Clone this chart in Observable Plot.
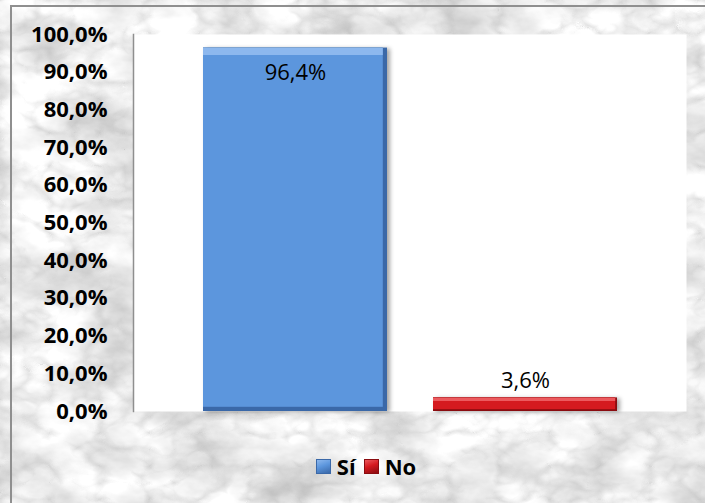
<!DOCTYPE html>
<html>
<head>
<meta charset="utf-8">
<script src="https://cdn.jsdelivr.net/npm/d3@7"></script>
<script src="https://cdn.jsdelivr.net/npm/@observablehq/plot@0.6"></script>
<style>
  html, body { margin: 0; padding: 0; background: #ffffff; }
  #wrap { position: relative; width: 705px; height: 503px; overflow: hidden; font-family: "Open Sans", "Liberation Sans", sans-serif; }
  #frame { position: absolute; left: 10px; top: 5px; right: -2px; bottom: -2px; border-left: 2px solid #8f8f8f; border-top: 2px solid #8f8f8f; pointer-events: none; }
  #chart { position: absolute; left: 0; top: 0; }
  #legend { position: absolute; left: 0; top: 450px; width: 705px; height: 32px; display: flex; justify-content: center; align-items: center; padding-left: 27px; box-sizing: border-box; font-weight: bold; font-size: 22px; color: #000; }
  .item { display: flex; align-items: center; margin: 0 4px; }
  .sw { width: 15px; height: 15px; margin-right: 6px; box-sizing: border-box; }
</style>
</head>
<body>
<div id="wrap">
  <div id="chart"></div>
  <div id="legend"></div>
  <div id="frame"></div>
</div>
<script>
// ---- data ----
const categories = ["Sí", "No"];
const values = [96.4, 3.6];
const yTicks = [0, 10, 20, 30, 40, 50, 60, 70, 80, 90, 100];
const mainColors = ["#5c96dd", "#d51a1f"];
const lightColors = ["#8db8ee", "#ec5a5e"];
const darkColors = ["#3a68a8", "#8a0c10"];

const data = categories.map((c, i) => ({cat: c, value: values[i]}));
const loc = d3.formatLocale({decimal: ",", thousands: ".", grouping: [3], currency: ["", "€"]});
const fmt = v => loc.format(".1f")(v) + "%";

// ---- marble background ----
(function () {
  const svg = `<svg xmlns='http://www.w3.org/2000/svg' width='705' height='503'>
  <filter id='f' x='0' y='0' width='100%' height='100%'>
    <feTurbulence type='fractalNoise' baseFrequency='0.012 0.02' numOctaves='5' seed='7' result='n'/>
    <feColorMatrix in='n' type='matrix' values='0.9 0 0 0 0.42  0.9 0 0 0 0.42  0.9 0 0 0 0.42  0 0 0 0 1' result='g'/>
  </filter>
  <filter id='v' x='0' y='0' width='100%' height='100%'>
    <feTurbulence type='turbulence' baseFrequency='0.02 0.03' numOctaves='3' seed='4'/>
    <feColorMatrix type='matrix' values='0 0 0 0 0.4  0 0 0 0 0.4  0 0 0 0 0.4  -1.8 0 0 0 0.55'/>
  </filter>
  <rect width='100%' height='100%' fill='#d8d8d8'/>
  <rect width='100%' height='100%' filter='url(#f)'/>
  <rect width='100%' height='100%' filter='url(#v)' opacity='0.6'/>
</svg>`;
  document.getElementById("wrap").style.background =
    "url(\"data:image/svg+xml," + encodeURIComponent(svg) + "\")";
})();

// ---- chart ----
const xOpts = {domain: categories, paddingInner: 0.2, paddingOuter: 0.3, axis: null};
const marks = [
  Plot.frame({fill: "white", stroke: null}),
  Plot.frame({anchor: "left", stroke: "#8f8f8f", strokeWidth: 1.5})
];
categories.forEach((c, i) => {
  const d = data.filter(r => r.cat === c);
  const b = i === 0 ? 7 : 3;
  marks.push(
    Plot.barY(d, {x: "cat", y: "value", fill: darkColors[i], className: "base-bar"}),
    Plot.barY(d, {x: "cat", y: "value", fill: mainColors[i], insetRight: b * 0.6, insetBottom: b * 0.6}),
    Plot.tickY(d, {x: "cat", y: "value", stroke: lightColors[i], strokeWidth: b, dy: b / 2, insetRight: b * 0.6})
  );
});
marks.push(
  Plot.text(data.filter(d => d.cat === "Sí"), {x: "cat", y: "value", text: d => fmt(d.value), dy: 25, fontSize: 22, fill: "#000"}),
  Plot.text(data.filter(d => d.cat === "No"), {x: "cat", y: "value", text: d => fmt(d.value), dy: -17, fontSize: 22, fill: "#000"}),
  Plot.axisY({ticks: yTicks, tickSize: 0, tickPadding: 26, tickFormat: v => fmt(v), fontSize: 22, fontWeight: "bold", fill: "#000", label: null})
);

const chart = Plot.plot({
  width: 705,
  height: 440,
  marginTop: 34,
  marginBottom: 29,
  marginLeft: 133,
  marginRight: 19,
  style: {background: "transparent", fontFamily: "'Open Sans', 'Liberation Sans', sans-serif", color: "#000"},
  x: xOpts,
  y: {domain: [0, 100]},
  marks
});
document.getElementById("chart").appendChild(chart);
chart.querySelectorAll(".base-bar, [class*='base-bar']").forEach(g => {
  g.style.filter = "drop-shadow(3px 1px 2px rgba(0,0,0,0.35))";
});

// ---- legend ----
const legend = document.getElementById("legend");
categories.forEach((c, i) => {
  const item = document.createElement("div");
  item.className = "item";
  const sw = document.createElement("div");
  sw.className = "sw";
  sw.style.background = `linear-gradient(160deg, ${lightColors[i]} 0%, ${mainColors[i]} 45%, ${darkColors[i]} 100%)`;
  sw.style.border = `1px solid ${darkColors[i]}`;
  const lab = document.createElement("span");
  lab.textContent = c;
  item.appendChild(sw);
  item.appendChild(lab);
  legend.appendChild(item);
});
</script>
</body>
</html>
